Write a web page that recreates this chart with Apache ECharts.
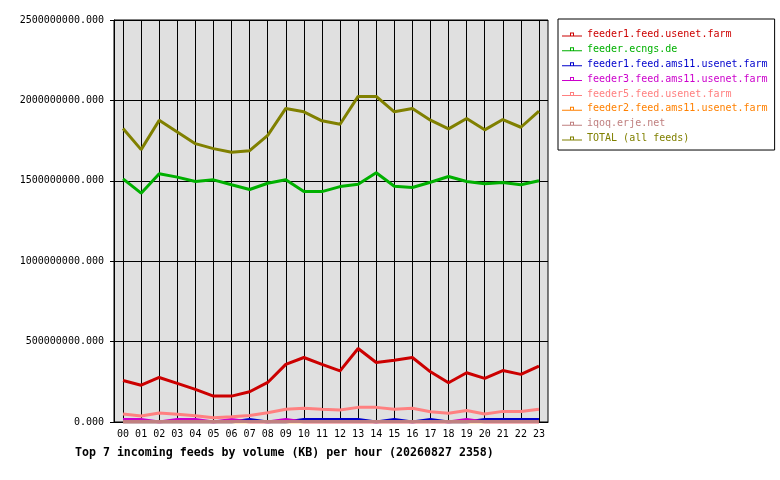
<!DOCTYPE html>
<html>
<head>
<meta charset="utf-8">
<script src="https://cdn.jsdelivr.net/npm/echarts@6/dist/echarts.min.js"></script>
<style>
  html, body { margin: 0; padding: 0; background: #fff; }
  #chart { width: 780px; height: 480px; }
</style>
</head>
<body>
<div id="chart"></div>
<script>
// hours of the day
const hours = ['00','01','02','03','04','05','06','07','08','09','10','11',
               '12','13','14','15','16','17','18','19','20','21','22','23'];

// volume per hour in KB (millions)
const feeder1Usenet = [258,229,277,240,203,161,161,188,246,358,401,358,
                       318,457,370,384,401,312,244,306,271,320,296,347].map(v => v * 1e6);
const ecngs = [1512,1423,1544,1523,1496,1506,1475,1446,1485,1506,1433,1433,
               1464,1479,1550,1466,1458,1491,1527,1496,1481,1489,1475,1500].map(v => v * 1e6);
const feeder1Ams11 = [0,0,0,0,0,0,0,15,0,0,15,15,
                      15,15,0,15,0,15,0,0,15,15,15,15].map(v => v * 1e6);
const feeder3Ams11 = [15,15,0,15,15,0,15,0,0,15,0,0,
                      0,0,0,0,0,0,0,15,0,0,0,0].map(v => v * 1e6);
const feeder5Usenet = [50,37,56,48,39,27,33,41,58,79,85,79,
                       74,91,91,79,85,64,54,72,50,66,66,79].map(v => v * 1e6);
const feeder2Ams11 = [0,0,0,0,0,0,0,0,0,0,0,0,
                      0,0,0,0,0,0,0,0,0,0,0,0];
const iqoq = [3,3,3,3,3,3,3,3,3,3,3,3,
              3,3,3,3,3,3,3,3,3,3,3,3].map(v => v * 1e6);
const total = [1825,1694,1877,1804,1731,1700,1677,1687,1783,1950,1929,1873,
               1852,2025,2025,1929,1950,1877,1823,1887,1817,1881,1833,1933].map(v => v * 1e6);

const feeds = [
    { name: 'feeder1.feed.usenet.farm', data: feeder1Usenet, color: '#cc0000' },
    { name: 'feeder.ecngs.de', data: ecngs, color: '#00b000' },
    { name: 'feeder1.feed.ams11.usenet.farm', data: feeder1Ams11, color: '#0000cc' },
    { name: 'feeder3.feed.ams11.usenet.farm', data: feeder3Ams11, color: '#cc00cc' },
    { name: 'feeder5.feed.usenet.farm', data: feeder5Usenet, color: '#ff8080' },
    { name: 'feeder2.feed.ams11.usenet.farm', data: feeder2Ams11, color: '#ff8000' },
    { name: 'iqoq.erje.net', data: iqoq, color: '#c08080' },
    { name: 'TOTAL (all feeds)', data: total, color: '#808000' }
];

const mono = 'DejaVu Sans Mono';

// legend key: a short line with a little open square on it
const keyIcon = 'path://M0,4H20V5H0Z M8,1H12V2H8Z M8,1H9V4H8Z M11,1H12V4H11Z';

let myChart = echarts.init(document.getElementById('chart'));

let option = {
    animation: false,
    backgroundColor: '#ffffff',
    title: {
        text: 'Top 7 incoming feeds by volume (KB) per hour (20260827 2358)',
        left: 70,
        top: 442,
        textStyle: { fontFamily: mono, fontSize: 11.6, fontWeight: 'bold', color: '#000' }
    },
    legend: {
        orient: 'vertical',
        left: 558,
        top: 19,
        padding: [10, 7, 6, 4],
        itemGap: 3.86,
        itemWidth: 20,
        itemHeight: 5,
        icon: keyIcon,
        backgroundColor: '#fff',
        borderColor: '#000',
        borderWidth: 1,
        borderRadius: 0,
        textStyle: { fontFamily: mono, fontSize: 10, lineHeight: 11 },
        data: feeds.map(f => ({ name: f.name, textStyle: { color: f.color } }))
    },
    grid: {
        left: 114,
        top: 20,
        right: 232,
        bottom: 58,
        show: true,
        backgroundColor: '#e0e0e0',
        borderColor: '#000',
        borderWidth: 1,
        outerBoundsMode: 'none'
    },
    xAxis: {
        type: 'category',
        data: hours,
        boundaryGap: true,
        axisLine: { lineStyle: { color: '#000', width: 1 } },
        axisTick: { alignWithLabel: true, length: 5, lineStyle: { color: '#000', width: 1 } },
        axisLabel: { fontFamily: mono, fontSize: 10, color: '#000', margin: 7, interval: 0 },
        splitLine: { show: true, alignWithLabel: true, lineStyle: { color: '#000', width: 1 } }
    },
    yAxis: {
        type: 'value',
        min: 0,
        max: 2500000000,
        interval: 500000000,
        axisLine: { show: true, lineStyle: { color: '#000' } },
        axisTick: { show: true, length: 4, lineStyle: { color: '#000' } },
        axisLabel: {
            fontFamily: mono, fontSize: 10, color: '#000', margin: 10,
            formatter: v => v.toFixed(3)
        },
        splitLine: { show: true, lineStyle: { color: '#000', width: 1 } }
    },
    series: feeds.map((f, k) => ({
        name: f.name,
        type: 'line',
        data: f.data,
        z: 2 + k,
        symbol: 'none',
        itemStyle: { color: f.color },
        lineStyle: { color: f.color, width: 3 }
    }))
};

myChart.setOption(option);
</script>
</body>
</html>
